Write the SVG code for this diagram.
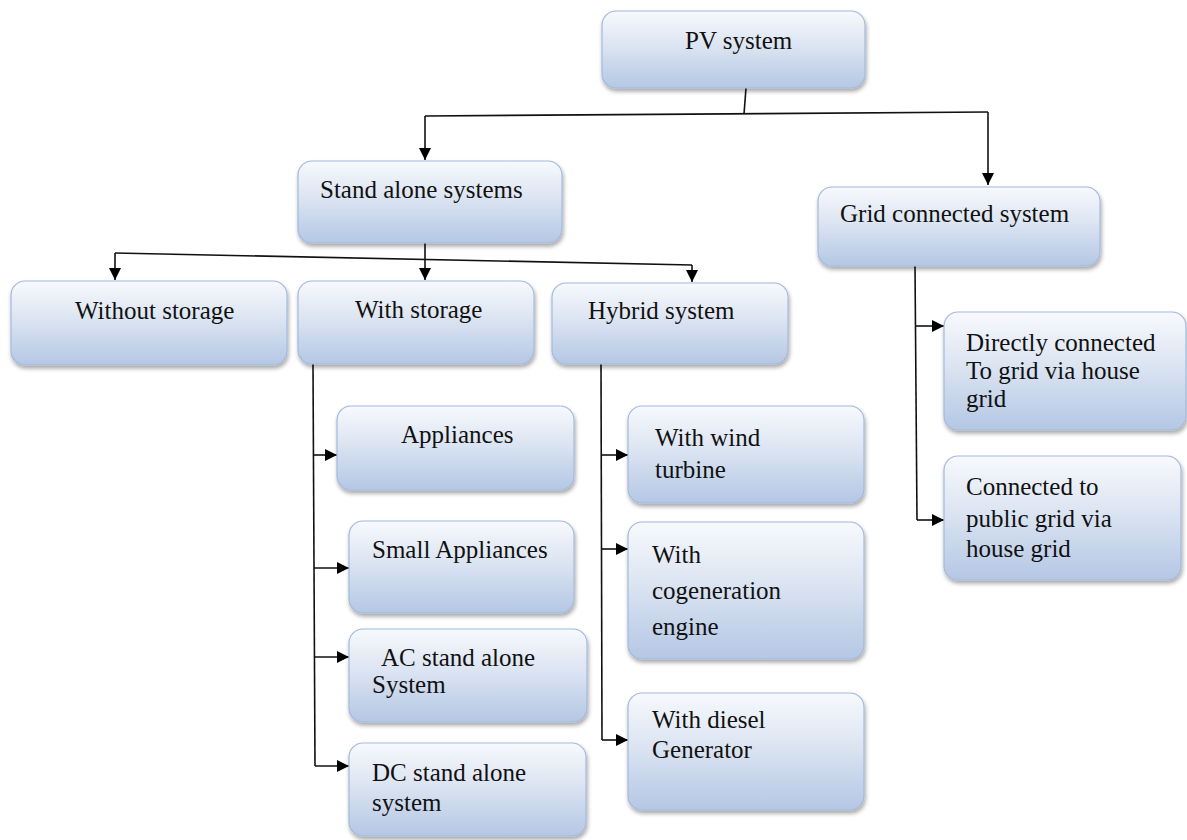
<svg xmlns="http://www.w3.org/2000/svg" width="1187" height="840" viewBox="0 0 1187 840">
<defs>
<linearGradient id="g" x1="0" y1="0" x2="0" y2="1">
<stop offset="0" stop-color="#f7f9fd"/>
<stop offset="0.4" stop-color="#dfe7f3"/>
<stop offset="1" stop-color="#b4c7e4"/>
</linearGradient>
<filter id="sh" x="-10%" y="-10%" width="125%" height="130%">
<feGaussianBlur in="SourceAlpha" stdDeviation="2"/>
<feOffset dx="1" dy="3"/>
<feComponentTransfer><feFuncA type="linear" slope="0.35"/></feComponentTransfer>
<feMerge><feMergeNode/><feMergeNode in="SourceGraphic"/></feMerge>
</filter>
<marker id="ar" viewBox="0 0 10 10" refX="10" refY="5" markerWidth="12" markerHeight="12" markerUnits="userSpaceOnUse" orient="auto">
<path d="M0,0 L10,5 L0,10 z" fill="#000"/>
</marker>
</defs>
<style>
.box{fill:url(#g);stroke:#a3b9dc;stroke-width:1.2;filter:url(#sh)}
.t{font-family:"Liberation Serif","Times New Roman",serif;font-size:25px;fill:#111}
.c{fill:none;stroke:#111;stroke-width:1.6}
.a{fill:none;stroke:#111;stroke-width:1.6;marker-end:url(#ar)}
</style>
<rect width="1187" height="840" fill="#fff"/>
<g id="connectors">
<path class="c" d="M746,88 L744,114"/>
<path class="c" d="M425,116 L988,112"/>
<path class="a" d="M425,116 L425,160"/>
<path class="a" d="M988,112 L988,185"/>
<path class="a" d="M425,243 L425,280"/>
<path class="c" d="M115,253 L692,265"/>
<path class="a" d="M115,253 L115,280"/>
<path class="a" d="M692,265 L692,282"/>
<path class="c" d="M313,364 L315,766"/>
<path class="a" d="M313,455 L337,455"/>
<path class="a" d="M314,568 L349,568"/>
<path class="a" d="M314,657 L349,657"/>
<path class="a" d="M315,766 L349,766"/>
<path class="c" d="M601,364 L602,740"/>
<path class="a" d="M601,455 L628,455"/>
<path class="a" d="M601,549 L628,549"/>
<path class="a" d="M602,740 L628,740"/>
<path class="c" d="M915,266 L917,520"/>
<path class="a" d="M915,326 L944,326"/>
<path class="a" d="M917,520 L944,520"/>
</g>
<g id="pv"><rect class="box" x="602" y="11" width="263" height="77" rx="14"/><text class="t" x="685" y="49">PV system</text></g>
<g id="standalone"><rect class="box" x="298" y="161" width="264" height="82" rx="14"/><text class="t" x="320" y="198">Stand alone systems</text></g>
<g id="grid"><rect class="box" x="818" y="187" width="282" height="79" rx="14"/><text class="t" x="840" y="222">Grid connected system</text></g>
<g id="without"><rect class="box" x="11" y="281" width="276" height="84" rx="14"/><text class="t" x="75" y="319">Without storage</text></g>
<g id="withstorage"><rect class="box" x="298" y="281" width="236" height="83" rx="14"/><text class="t" x="355" y="318">With storage</text></g>
<g id="hybrid"><rect class="box" x="552" y="283" width="236" height="81" rx="14"/><text class="t" x="588" y="319">Hybrid system</text></g>
<g id="appliances"><rect class="box" x="337" y="406" width="237" height="84" rx="14"/><text class="t" x="401" y="443">Appliances</text></g>
<g id="small"><rect class="box" x="349" y="521" width="225" height="92" rx="14"/><text class="t" x="372" y="558">Small Appliances</text></g>
<g id="ac"><rect class="box" x="349" y="629" width="238" height="93" rx="14"/><text class="t" x="381" y="666">AC stand alone</text><text class="t" x="372" y="693">System</text></g>
<g id="dc"><rect class="box" x="349" y="743" width="237" height="93" rx="14"/><text class="t" x="372" y="781">DC stand alone</text><text class="t" x="372" y="811">system</text></g>
<g id="wind"><rect class="box" x="628" y="406" width="236" height="97" rx="14"/><text class="t" x="655" y="446">With wind</text><text class="t" x="655" y="478">turbine</text></g>
<g id="cogen"><rect class="box" x="628" y="522" width="236" height="137" rx="14"/><text class="t" x="652" y="563">With</text><text class="t" x="652" y="599">cogeneration</text><text class="t" x="652" y="635">engine</text></g>
<g id="diesel"><rect class="box" x="628" y="693" width="236" height="117" rx="14"/><text class="t" x="652" y="728">With diesel</text><text class="t" x="652" y="758">Generator</text></g>
<g id="direct"><rect class="box" x="944" y="312" width="242" height="118" rx="14"/><text class="t" x="966" y="351">Directly connected</text><text class="t" x="966" y="379">To grid via house</text><text class="t" x="966" y="407">grid</text></g>
<g id="public"><rect class="box" x="944" y="456" width="237" height="124" rx="14"/><text class="t" x="966" y="495">Connected to</text><text class="t" x="966" y="527">public grid via</text><text class="t" x="966" y="557">house grid</text></g>
</svg>
